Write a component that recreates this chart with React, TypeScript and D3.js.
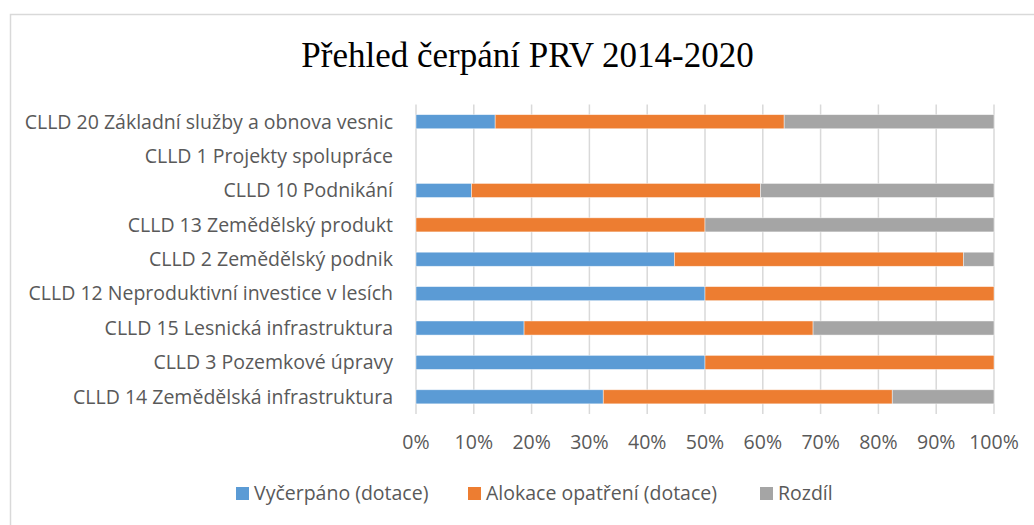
import React, { useEffect, useRef } from "react";
import * as d3 from "d3";

const title = "Přehled čerpání PRV 2014-2020";

// top to bottom as shown
const categories = [
  "CLLD 20 Základní služby a obnova vesnic",
  "CLLD 1 Projekty spolupráce",
  "CLLD 10 Podnikání",
  "CLLD 13 Zemědělský produkt",
  "CLLD 2 Zemědělský podnik",
  "CLLD 12 Neproduktivní investice v lesích",
  "CLLD 15 Lesnická infrastruktura",
  "CLLD 3 Pozemkové úpravy",
  "CLLD 14 Zemědělská infrastruktura",
];

// shares in percent
const vycerpano = [13.7, 0, 9.6, 0, 44.7, 50, 18.7, 50, 32.4];
const alokace = [50, 0, 50, 50, 50, 50, 50, 50, 50];
const rozdil = [36.3, 0, 40.4, 50, 5.3, 0, 31.3, 0, 17.6];

const seriesNames = ["Vyčerpáno (dotace)", "Alokace opatření (dotace)", "Rozdíl"];
const colors = ["#5b9bd5", "#ed7d31", "#a5a5a5"];
const ticks = [0, 0.1, 0.2, 0.3, 0.4, 0.5, 0.6, 0.7, 0.8, 0.9, 1];

export default function App() {
  const ref = useRef<SVGSVGElement>(null);

  useEffect(() => {
    const width = 1034;
    const height = 525;
    const svg = d3.select(ref.current);
    svg.selectAll("*").remove();

    const font = "Open Sans, sans-serif";
    const fontSize = "19.5px";
    const plotLeft = 416;
    const plotRight = 994;
    const plotTop = 104.5;
    const plotBottom = 414;

    svg
      .append("rect")
      .attr("x", 10.5)
      .attr("y", 14.5)
      .attr("width", width + 20)
      .attr("height", height + 20)
      .attr("fill", "white")
      .attr("stroke", "#d9d9d9")
      .attr("stroke-width", 1.5);

    svg
      .append("text")
      .attr("x", 527.5)
      .attr("y", 67)
      .attr("text-anchor", "middle")
      .style("font-family", "Liberation Serif, Times New Roman, serif")
      .style("font-size", "35px")
      .attr("fill", "#000")
      .text(title);

    const x = d3.scaleLinear().domain([0, 1]).range([plotLeft, plotRight]);
    const y = d3
      .scaleBand()
      .domain(categories)
      .range([plotTop, plotBottom])
      .paddingInner(0.59)
      .paddingOuter(0.295);

    // gridlines
    svg
      .append("g")
      .selectAll("line")
      .data(ticks)
      .enter()
      .append("line")
      .attr("x1", (d) => x(d))
      .attr("x2", (d) => x(d))
      .attr("y1", plotTop)
      .attr("y2", plotBottom)
      .attr("stroke", "#d9d9d9")
      .attr("stroke-width", 1.5);

    // stack
    const rows = categories.map((c, i) => {
      const total = vycerpano[i] + alokace[i] + rozdil[i];
      return {
        cat: c,
        s0: total ? vycerpano[i] / total : 0,
        s1: total ? alokace[i] / total : 0,
        s2: total ? rozdil[i] / total : 0,
      };
    });
    const stacked = d3.stack<any>().keys(["s0", "s1", "s2"])(rows);

    stacked.forEach((layer, si) => {
      svg
        .append("g")
        .selectAll("rect")
        .data(layer.filter((d) => d[1] - d[0] > 0))
        .enter()
        .append("rect")
        .attr("x", (d) => x(d[0]))
        .attr("width", (d) => x(d[1]) - x(d[0]))
        .attr("y", (d) => y(d.data.cat)!)
        .attr("height", y.bandwidth())
        .attr("fill", colors[si])
        .attr("stroke", "#ffffff")
        .attr("stroke-opacity", 0.6)
        .attr("stroke-width", 0.75);
    });

    // category labels
    svg
      .append("g")
      .selectAll("text")
      .data(categories)
      .enter()
      .append("text")
      .attr("x", 393)
      .attr("y", (d) => y(d)! + y.bandwidth() / 2)
      .attr("dy", "0.35em")
      .attr("text-anchor", "end")
      .style("font-family", font)
      .style("font-size", fontSize)
      .attr("fill", "#595959")
      .text((d) => d);

    // x tick labels
    svg
      .append("g")
      .selectAll("text")
      .data(ticks)
      .enter()
      .append("text")
      .attr("x", (d) => x(d))
      .attr("y", 449)
      .attr("text-anchor", "middle")
      .style("font-family", font)
      .style("font-size", fontSize)
      .attr("fill", "#595959")
      .text((d) => d3.format(".0%")(d));

    // legend
    const legendX = [236, 468, 760];
    const lg = svg.append("g");
    seriesNames.forEach((name, i) => {
      lg.append("rect")
        .attr("x", legendX[i])
        .attr("y", 487)
        .attr("width", 13)
        .attr("height", 13)
        .attr("fill", colors[i]);
      lg.append("text")
        .attr("x", legendX[i] + 18)
        .attr("y", 493.5)
        .attr("dy", "0.35em")
        .style("font-family", font)
        .style("font-size", fontSize)
        .attr("fill", "#595959")
        .text(name);
    });
  }, []);

  return (
    <svg
      ref={ref}
      width={1034}
      height={525}
      style={{ position: "absolute", left: 0, top: 0 }}
    />
  );
}
